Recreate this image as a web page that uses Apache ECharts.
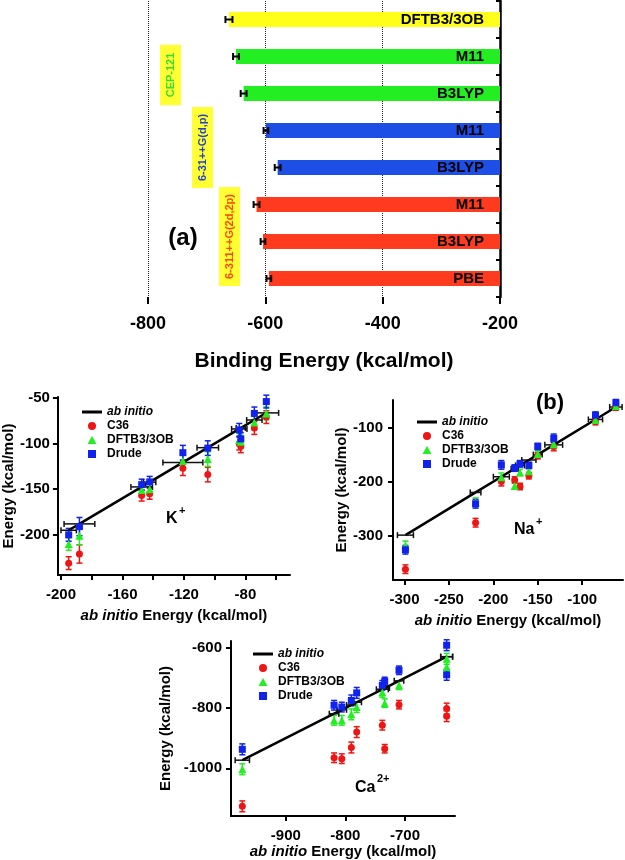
<!DOCTYPE html>
<html>
<head>
<meta charset="utf-8">
<script src="https://cdn.jsdelivr.net/npm/echarts@6/dist/echarts.min.js"></script>
<style>
  html, body { margin: 0; padding: 0; background: #fff; }
  #chart { width: 625px; height: 860px; }
</style>
</head>
<body>
<div id="chart"></div>
<script>
// ---- panel (a): binding energies ----
var methods = ['DFTB3/3OB', 'M11', 'B3LYP', 'M11', 'B3LYP', 'M11', 'B3LYP', 'PBE'];
var basisOf = ['dftb', 'cep', 'cep', '631', '631', '6311', '6311', '6311'];
var bindEnergy = [-662, -650, -637, -599, -579, -615, -604, -594];
var bindErr = [6, 5, 5, 4, 5, 5, 4, 4];
var bindTicks = [-800, -600, -400, -200];

// ---- K+ ----
var kAb = [-195, -188, -147.5, -142.3, -120.7, -104.5, -84, -83, -74.2, -66.4];
var kAbErr = [5, 10, 7, 4, 13, 7, 5, 3, 5, 8];
var kC36 = [-231, -221, -157, -155, -127, -134, -100, -103, -83, -71];
var kDftb = [-210, -201, -151, -150, -119, -117, -96, -98, -77, -67];
var kDrude = [-200, -191, -145, -142, -110, -105, -85, -95, -67, -54];
var kErr = [7, 10, 6, 6, 8, 8, 7, 7, 7, 7];
var kXTicks = [-200, -180, -160, -140, -120, -100, -80, -60];
var kXLabels = [-200, -160, -120, -80];
var kYTicks = [-50, -100, -150, -200];

// ---- Na+ ----
var naAb = [-299, -220, -191, -176, -170, -160, -150, -132, -85, -62];
var naAbErr = [9, 6, 9, 4, 5, 8, 5, 10, 8, 7];
var naC36 = [-362, -276, -200, -197, -209, -189, -152, -135, -89, -62];
var naDftb = [-318, -238, -192, -208, -183, -181, -149, -131, -86, -60];
var naDrude = [-326, -241, -169, -175, -167, -170, -135, -120, -77, -54];
var naErr = [8, 8, 8, 6, 6, 6, 6, 8, 6, 6];
var naXTicks = [-300, -250, -200, -150, -100];
var naYTicks = [-100, -200, -300];

// ---- Ca2+ ----
var caAb = [-973, -819, -806, -790, -781, -738, -734, -710, -630, -630];
var caAbErr = [12, 8, 8, 8, 8, 10, 8, 8, 10, 10];
var caC36 = [-1126, -965, -968, -931, -880, -857, -935, -789, -802, -827];
var caDftb = [-1003, -841, -841, -821, -797, -749, -784, -725, -664, -637];
var caDrude = [-937, -791, -797, -775, -750, -725, -712, -675, -592, -690];
var caErr = [18, 16, 16, 18, 18, 16, 14, 14, 18, 18];
var caXTicks = [-900, -800, -700];
var caYTicks = [-600, -800, -1000];

var basisColor = { dftb: '#ffff1a', cep: '#22ee22', '631': '#1d4fe6', '6311': '#ff3b1f' };
var RED = '#ee1515', GREEN = '#22ee22', BLUE = '#1122ee';
var FONT = 'Liberation Sans';

function vErr(xs, ys, errs, color, gi) {
    return {
        type: 'custom', xAxisIndex: gi, yAxisIndex: gi, silent: true, z: 2,
        data: xs.map(function (x, i) { return [x, ys[i] - errs[i], ys[i] + errs[i]]; }),
        encode: { x: 0, y: [1, 2] },
        renderItem: function (params, api) {
            var lo = api.coord([api.value(0), api.value(1)]);
            var hi = api.coord([api.value(0), api.value(2)]);
            var w = 3, st = { stroke: color, lineWidth: 1.5 };
            return { type: 'group', children: [
                { type: 'line', shape: { x1: lo[0], y1: lo[1], x2: hi[0], y2: hi[1] }, style: st },
                { type: 'line', shape: { x1: lo[0] - w, y1: lo[1], x2: lo[0] + w, y2: lo[1] }, style: st },
                { type: 'line', shape: { x1: hi[0] - w, y1: hi[1], x2: hi[0] + w, y2: hi[1] }, style: st }
            ] };
        }
    };
}
function hErr(xs, errs, gi) {
    return {
        type: 'custom', xAxisIndex: gi, yAxisIndex: gi, silent: true, z: 4,
        data: xs.map(function (x, i) { return [x - errs[i], x + errs[i], x]; }),
        encode: { x: [0, 1], y: 2 },
        renderItem: function (params, api) {
            var lo = api.coord([api.value(0), api.value(2)]);
            var hi = api.coord([api.value(1), api.value(2)]);
            var h = 3, st = { stroke: '#111', lineWidth: 1.5 };
            return { type: 'group', children: [
                { type: 'line', shape: { x1: lo[0], y1: lo[1], x2: hi[0], y2: hi[1] }, style: st },
                { type: 'line', shape: { x1: lo[0], y1: lo[1] - h, x2: lo[0], y2: lo[1] + h }, style: st },
                { type: 'line', shape: { x1: hi[0], y1: hi[1] - h, x2: hi[0], y2: hi[1] + h }, style: st }
            ] };
        }
    };
}
function pts(xs, ys) { return xs.map(function (x, i) { return [x, ys[i]]; }); }

function panelSeries(gi, ab, abErr, c36, dftb, drude, err) {
    return [
        vErr(ab, c36, err, RED, gi), vErr(ab, dftb, err, GREEN, gi), vErr(ab, drude, err, BLUE, gi),
        { name: 'ab initio', type: 'line', xAxisIndex: gi, yAxisIndex: gi, symbol: 'none', silent: true,
          data: pts(ab, ab), lineStyle: { color: '#000', width: 2.5 }, itemStyle: { color: '#000' }, z: 3 },
        hErr(ab, abErr, gi),
        { name: 'C36', type: 'scatter', xAxisIndex: gi, yAxisIndex: gi, symbol: 'circle', symbolSize: 7,
          data: pts(ab, c36), itemStyle: { color: RED, opacity: 1 }, z: 5 },
        { name: 'DFTB3/3OB', type: 'scatter', xAxisIndex: gi, yAxisIndex: gi, symbol: 'triangle', symbolSize: 8,
          data: pts(ab, dftb), itemStyle: { color: GREEN, opacity: 1 }, z: 5 },
        { name: 'Drude', type: 'scatter', xAxisIndex: gi, yAxisIndex: gi, symbol: 'rect', symbolSize: 7,
          data: pts(ab, drude), itemStyle: { color: BLUE, opacity: 1 }, z: 6 }
    ];
}

var lineAx = { show: true, lineStyle: { color: '#000', width: 2 } };
function valAxis(gi, min, max, ticks, labels, opts) {
    return {
        type: 'value', gridIndex: gi, min: min, max: max, scale: true,
        axisLine: lineAx, splitLine: { show: false },
        axisTick: { show: true, inside: false, length: 5, lineStyle: { color: '#000', width: 2 }, customValues: ticks },
        axisLabel: { customValues: labels, color: '#000', fontWeight: 'bold', fontSize: 15, fontFamily: FONT, margin: opts.margin,
                     formatter: function (v) { return String(v); } },
        name: opts.name, nameLocation: 'middle', nameGap: opts.nameGap,
        nameTextStyle: { color: '#000', fontWeight: 'bold', fontSize: 15, fontFamily: FONT,
            rich: { i: { fontStyle: 'italic', fontWeight: 'bold', fontSize: 15, fontFamily: FONT, color: '#000' } } }
    };
}
function legendAt(left, top) {
    return {
        left: left, top: top, orient: 'vertical', itemWidth: 20, itemHeight: 8, itemGap: 2,
        selectedMode: false, symbolKeepAspect: true,
        textStyle: { color: '#000', fontWeight: 'bold', fontSize: 12, fontFamily: FONT,
            rich: { i: { fontStyle: 'italic', fontWeight: 'bold', fontSize: 12, fontFamily: FONT, color: '#000' } } },
        formatter: function (n) { return n === 'ab initio' ? '{i|ab initio}' : n; },
        data: [
            { name: 'ab initio', icon: 'path://M0,0H20V3H0Z' },
            { name: 'C36', icon: 'circle' },
            { name: 'DFTB3/3OB', icon: 'path://M5,0L10,9L0,9Z' },
            { name: 'Drude', icon: 'path://M0,0H10V10H0Z' }
        ]
    };
}

var xName = '{i|ab initio} Energy (kcal/mol)';
var yName = 'Energy (kcal/mol)';

var myChart = echarts.init(document.getElementById('chart'), null, { renderer: 'canvas' });
var option = {
    backgroundColor: '#fff',
    animation: false,
    textStyle: { fontFamily: FONT },
    grid: [
        { left: 148, right: 125, top: 1, bottom: 563 },
        { left: 57, right: 335, top: 397, bottom: 285 },
        { left: 393, right: 2, top: 400, bottom: 280 },
        { left: 231, right: 170, top: 641, bottom: 44 }
    ],
    xAxis: [
        { type: 'value', gridIndex: 0, min: -800, max: -200, interval: 200,
          axisLine: { lineStyle: { color: '#000', width: 2.5 } },
          axisTick: { show: true, length: 7, lineStyle: { color: '#000', width: 2 } },
          splitLine: { show: true, lineStyle: { color: '#222', type: 'dotted', width: 1 } },
          axisLabel: { color: '#000', fontWeight: 'bold', fontSize: 18, fontFamily: FONT, margin: 18 },
          name: 'Binding Energy (kcal/mol)', nameLocation: 'middle', nameGap: 54,
          nameTextStyle: { color: '#000', fontWeight: 'bold', fontSize: 21, fontFamily: FONT } },
        valAxis(1, -202, -51, kXTicks, kXLabels, { margin: 12, name: xName, nameGap: 33 }),
        valAxis(2, -313, -54, naXTicks, naXTicks, { margin: 12, name: xName, nameGap: 33 }),
        valAxis(3, -992, -616, caXTicks, caXTicks, { margin: 12, name: xName, nameGap: 28 })
    ],
    yAxis: [
        { type: 'category', gridIndex: 0, data: methods, inverse: true, position: 'right',
          axisLine: { lineStyle: { color: '#000', width: 2.5 } },
          axisTick: { show: true, inside: true, length: 4, lineStyle: { color: '#000', width: 2 } },
          axisLabel: { show: false } },
        valAxis(1, -244, -49, kYTicks, kYTicks, { margin: 8, name: yName, nameGap: 36 }),
        valAxis(2, -382, -49, naYTicks, naYTicks, { margin: 10, name: yName, nameGap: 40 }),
        valAxis(3, -1158, -578, caYTicks, caYTicks, { margin: 9, name: yName, nameGap: 58 })
    ],
    legend: [legendAt(77, 401), legendAt(412, 411), legendAt(248, 643)],
    graphic: [
        { type: 'text', x: 170.5, y: 75, rotation: Math.PI / 2,
          style: { text: 'CEP-121', fill: '#33dd33', font: 'bold 11px ' + FONT, align: 'center', verticalAlign: 'middle',
                   backgroundColor: '#ffff33', padding: [5, 8] } },
        { type: 'text', x: 202.5, y: 147.5, rotation: Math.PI / 2,
          style: { text: '6-31++G(d,p)', fill: '#2244cc', font: 'bold 11px ' + FONT, align: 'center', verticalAlign: 'middle',
                   backgroundColor: '#ffff33', padding: [5, 7] } },
        { type: 'text', x: 229.5, y: 236.5, rotation: Math.PI / 2,
          style: { text: '6-311++G(2d,2p)', fill: '#ff4400', font: 'bold 11px ' + FONT, align: 'center', verticalAlign: 'middle',
                   backgroundColor: '#ffff33', padding: [5, 7] } },
        { type: 'text', x: 183, y: 238, style: { text: '(a)', fill: '#000', font: 'bold 24px ' + FONT, align: 'center', verticalAlign: 'middle' } },
        { type: 'text', x: 550, y: 403, style: { text: '(b)', fill: '#000', font: 'bold 22px ' + FONT, align: 'center', verticalAlign: 'middle' } },
        { type: 'text', x: 166, y: 519, style: { text: 'K', fill: '#000', font: 'bold 16px ' + FONT, verticalAlign: 'middle' } },
        { type: 'text', x: 179, y: 511, style: { text: '+', fill: '#000', font: 'bold 11px ' + FONT, verticalAlign: 'middle' } },
        { type: 'text', x: 514, y: 530, style: { text: 'Na', fill: '#000', font: 'bold 16px ' + FONT, verticalAlign: 'middle' } },
        { type: 'text', x: 536, y: 522, style: { text: '+', fill: '#000', font: 'bold 11px ' + FONT, verticalAlign: 'middle' } },
        { type: 'text', x: 355, y: 788, style: { text: 'Ca', fill: '#000', font: 'bold 16px ' + FONT, verticalAlign: 'middle' } },
        { type: 'text', x: 377, y: 779, style: { text: '2+', fill: '#000', font: 'bold 11px ' + FONT, verticalAlign: 'middle' } }
    ],
    series: [
        { type: 'bar', xAxisIndex: 0, yAxisIndex: 0, barWidth: 15, clip: true, silent: true,
          data: bindEnergy.map(function (v, i) {
              return { value: v, itemStyle: { color: basisColor[basisOf[i]] } };
          }),
          label: { show: true, position: 'insideRight', distance: 16, color: '#000', fontWeight: 'bold', fontSize: 15, fontFamily: FONT,
                   formatter: function (p) { return p.name; } } },
        { type: 'custom', xAxisIndex: 0, yAxisIndex: 0, silent: true, z: 4,
          data: bindEnergy.map(function (v, i) { return [v - bindErr[i], v + bindErr[i], i]; }),
          encode: { x: [0, 1], y: 2 },
          renderItem: function (params, api) {
              var lo = api.coord([api.value(0), api.value(2)]);
              var hi = api.coord([api.value(1), api.value(2)]);
              var h = 3.5, st = { stroke: '#000', lineWidth: 2 };
              return { type: 'group', children: [
                  { type: 'line', shape: { x1: lo[0], y1: lo[1], x2: hi[0], y2: hi[1] }, style: st },
                  { type: 'line', shape: { x1: lo[0], y1: lo[1] - h, x2: lo[0], y2: lo[1] + h }, style: st },
                  { type: 'line', shape: { x1: hi[0], y1: hi[1] - h, x2: hi[0], y2: hi[1] + h }, style: st }
              ] };
          } }
    ].concat(
        panelSeries(1, kAb, kAbErr, kC36, kDftb, kDrude, kErr),
        panelSeries(2, naAb, naAbErr, naC36, naDftb, naDrude, naErr),
        panelSeries(3, caAb, caAbErr, caC36, caDftb, caDrude, caErr)
    )
};
myChart.setOption(option);
</script>
</body>
</html>
